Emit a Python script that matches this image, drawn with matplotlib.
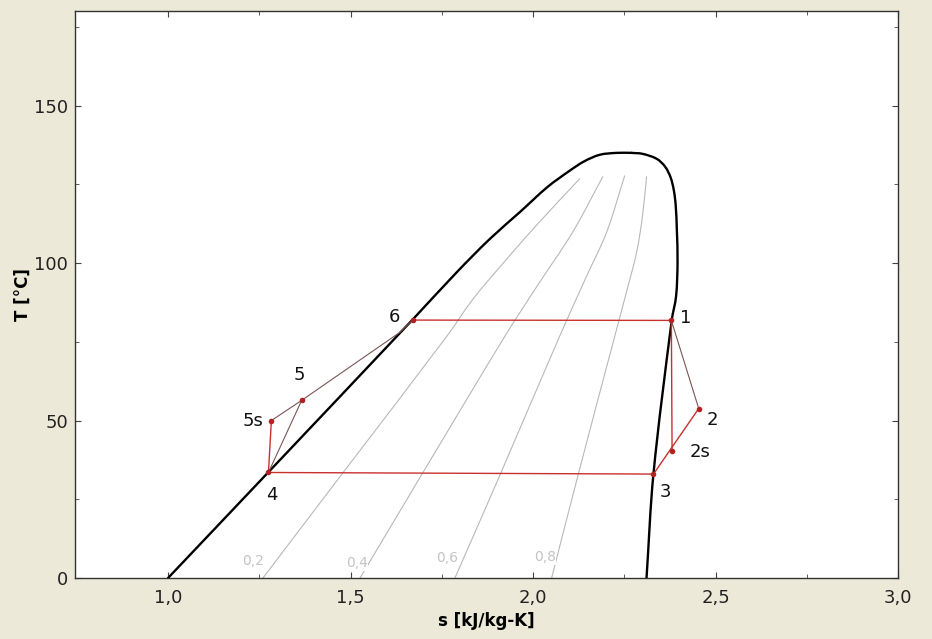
import matplotlib
matplotlib.use("Agg")
import numpy as np
import matplotlib.pyplot as plt
from matplotlib.path import Path
from matplotlib.patches import PathPatch

plt.rcParams['font.family'] = ['DejaVu Sans']

# Saturation dome (s in kJ/kg-K, T in °C)
liq_s = [1.000, 1.274, 1.668, 1.791, 1.881, 1.964, 2.040, 2.100, 2.140, 2.183, 2.229, 2.270]
liq_T = [0.0, 33.5, 81.8, 97.1, 107.6, 116.2, 124.2, 129.3, 132.3, 134.4, 135.0, 135.0]
vap_s = [2.270, 2.300, 2.339, 2.362, 2.377, 2.386, 2.391, 2.394, 2.396, 2.392, 2.380, 2.330, 2.311]
vap_T = [135.0, 134.7, 133.1, 130.6, 127.2, 123.0, 118.2, 110.8, 100.3, 89.5, 81.8, 33.1, 0.0]

# Constant-quality lines
quality_labels = ["0,2", "0,4", "0,6", "0,8"]
q02_s = [1.260, 1.479, 1.764, 1.835, 1.928, 2.018, 2.128]
q02_T = [0.0, 33.4, 76.8, 88.5, 101.3, 113.1, 126.8]
q04_s = [1.526, 1.698, 1.923, 2.018, 2.109, 2.191]
q04_T = [0.0, 33.4, 76.8, 93.9, 109.9, 127.4]
q06_s = [1.786, 1.912, 2.073, 2.147, 2.202, 2.251]
q06_T = [0.0, 33.4, 76.8, 95.9, 109.9, 127.7]
q08_s = [2.051, 2.125, 2.224, 2.256, 2.284, 2.300, 2.311]
q08_T = [0.0, 33.4, 76.8, 90.8, 103.5, 115.0, 127.4]
q_label_s = [1.233, 1.517, 1.764, 2.032]
q_label_T = [5.4, 4.8, 6.4, 6.7]

# Cycle state points
state_names = ["1", "2", "2s", "3", "4", "5", "5s", "6"]
state_s = [2.379, 2.454, 2.381, 2.330, 1.275, 1.366, 1.283, 1.670]
state_T = [81.8, 53.8, 40.3, 33.0, 33.5, 56.4, 50.0, 81.9]
label_offsets = {"1": (14, 2), "2": (14, -11), "2s": (28, -1), "3": (12, -18),
                 "4": (3, -23), "5": (-2, 25), "5s": (-18, 0), "6": (-18, 3)}

# Point where the 5-6 line meets the liquid line
mix_s, mix_T = 1.635, 78.0

xticks = [1.0, 1.5, 2.0, 2.5, 3.0]
xtick_labels = ["1,0", "1,5", "2,0", "2,5", "3,0"]
yticks = [0, 50, 100, 150]

fig = plt.figure(figsize=(9.32, 6.39), dpi=100, facecolor="#ECE9D8")
ax = fig.add_axes([0.0805, 0.0955, 0.883, 0.887])
ax.set_facecolor("white")
ax.set_xlim(0.745, 3.0)
ax.set_ylim(0, 180)


def smooth_curve(xs, ys, color, lw, zorder):
    """Draw a curve through the points as a cubic Bezier path; tangents follow the
    neighbouring points and handles scale with each segment's length (display space)."""
    pts = ax.transData.transform(list(zip(xs, ys)))
    n = len(pts)

    def tangent(i):
        a = pts[max(i - 1, 0)]
        b = pts[min(i + 1, n - 1)]
        d = b - a
        return d / (np.hypot(*d) or 1.0)

    verts = [tuple(pts[0])]
    codes = [Path.MOVETO]
    for i in range(n - 1):
        p1, p2 = pts[i], pts[i + 1]
        L = np.hypot(*(p2 - p1))
        c1 = p1 + tangent(i) * L / 3.0
        c2 = p2 - tangent(i + 1) * L / 3.0
        verts += [tuple(c1), tuple(c2), tuple(p2)]
        codes += [Path.CURVE4] * 3
    data_verts = ax.transData.inverted().transform(verts)
    patch = PathPatch(Path(data_verts, codes), facecolor="none", edgecolor=color,
                      lw=lw, zorder=zorder, joinstyle="round", capstyle="round")
    ax.add_patch(patch)


# quality lines
qcolor = "#B8B8B8"
for qs, qt in ((q02_s, q02_T), (q04_s, q04_T), (q06_s, q06_T), (q08_s, q08_T)):
    smooth_curve(qs, qt, qcolor, 0.8, 1)
for lab, ls, lt in zip(quality_labels, q_label_s, q_label_T):
    ax.text(ls, lt, lab, color="#C4C4C4", fontsize=10, ha="center", va="center",
            zorder=2, bbox=dict(facecolor="white", edgecolor="none", pad=0.5))

# dome
smooth_curve(liq_s, liq_T, "black", 1.7, 3)
smooth_curve(vap_s, vap_T, "black", 1.7, 3)

P = dict(zip(state_names, zip(state_s, state_T)))
red = "#C8302E"
thin = "#7A5555"


def seg(a, b, color, lw):
    ax.plot([a[0], b[0]], [a[1], b[1]], color=color, lw=lw, zorder=4)


seg(P["6"], P["1"], red, 1.0)
seg(P["1"], P["2s"], red, 1.0)
seg(P["1"], P["2"], thin, 0.8)
seg(P["3"], P["2"], red, 1.0)
seg(P["3"], P["4"], red, 1.0)
seg(P["4"], P["5s"], red, 1.0)
seg(P["4"], P["5"], thin, 0.8)
seg(P["5s"], P["5"], thin, 0.8)
seg(P["5"], (mix_s, mix_T), thin, 0.8)
seg((mix_s, mix_T), P["6"], thin, 0.8)

ax.scatter(state_s, state_T, s=16, color="#B22222", zorder=5, linewidths=0)
for name, s, t in zip(state_names, state_s, state_T):
    ax.annotate(name, (s, t), xytext=label_offsets[name], textcoords="offset pixels",
                ha="center", va="center", fontsize=13, color="#111111", zorder=6)

ax.set_xticks(xticks)
ax.set_xticklabels(xtick_labels)
ax.set_xticks([1.25, 1.75, 2.25, 2.75], minor=True)
ax.set_yticks(yticks)
ax.set_yticks([25, 75, 125, 175], minor=True)
ax.tick_params(which="both", direction="in", top=True, right=True,
               labelsize=13, labelcolor="#222222", color="#444444")
ax.tick_params(which="major", length=4)
ax.tick_params(which="minor", length=3)
ax.tick_params(axis="x", pad=8)
ax.tick_params(axis="y", pad=5)
for sp in ax.spines.values():
    sp.set_color("#333333")
    sp.set_linewidth(1.0)

ax.set_xlabel("s [kJ/kg-K]", fontsize=12, fontweight="bold")
ax.set_ylabel("T [°C]", fontsize=12, fontweight="bold")
ax.xaxis.set_label_coords(0.5, -0.06)
ax.yaxis.set_label_coords(-0.052, 0.5)

fig.savefig("out.png", dpi=100, facecolor=fig.get_facecolor())
